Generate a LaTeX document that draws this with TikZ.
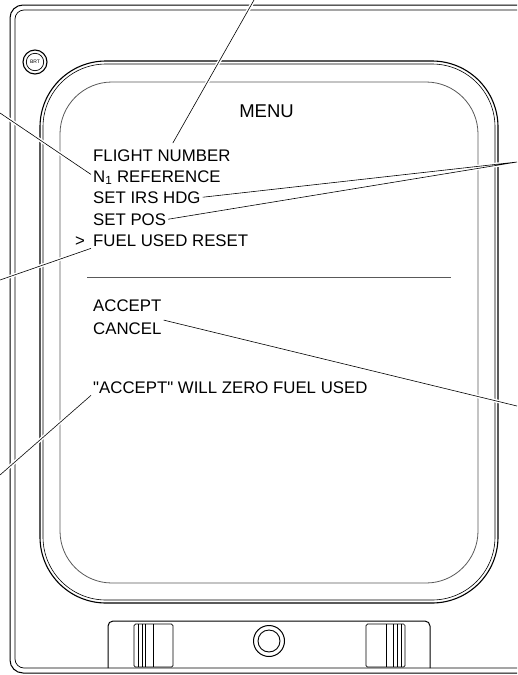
\documentclass[tikz,border=0pt]{standalone}
\usepackage{fontspec}
\setmainfont{Liberation Sans}
\tikzset{
  menuline/.style={anchor=base west, inner sep=2pt, font=\fontsize{16.8}{20}\selectfont},
  leader/.style={line width=0.6pt, preaction={draw=white, line width=3.5pt}},
  bezel/.style={line width=1pt},
}
\begin{document}
\begin{tikzpicture}[x=1pt,y=-1pt]
\useasboundingbox (0,0) rectangle (517,675);
\clip (0,0) rectangle (517,675);
% housing
\draw[bezel, rounded corners=13pt] (540,5) -- (10,5) -- (10,673) -- (540,673);
\draw[line width=0.7pt, rounded corners=9pt] (540,10) -- (15,10) -- (15,668) -- (540,668);
% screen bezel
\draw[line width=1.1pt, rounded corners=66pt] (40,61) rectangle (498,603);
\draw[line width=0.6pt, rounded corners=63pt] (43,64) rectangle (495,600);
\draw[line width=0.8pt, color=black!65, rounded corners=52pt] (60,82) rectangle (478,583);
% brightness knob
\node (brt) at (35,62) [font=\fontsize{5}{5}\selectfont, inner sep=0pt] {BRT};
\draw[line width=1.1pt] (brt.center) circle (12);
\draw[line width=0.7pt] (brt.center) circle (8.7);
% lower panel
\draw[bezel, rounded corners=5pt] (108,668) -- (108,621) -- (430,621) -- (430,668);
\draw[line width=0.7pt, rounded corners=1.5pt] (134,624) rectangle (173,667);
\foreach \x in {138,142,145,153} \draw[line width=0.5pt] (\x,624) -- (\x,667);
\draw[line width=0.7pt, rounded corners=1.5pt] (366,624) rectangle (405,667);
\foreach \x in {386,393,397,401} \draw[line width=0.5pt] (\x,624) -- (\x,667);
\draw[line width=1pt] (269,641) circle (15.5);
\draw[line width=0.9pt] (269,641) circle (11);
% screen text
\node (menu) at (266.5,117) [menuline, anchor=base, font=\fontsize{18.5}{22}\selectfont] {MENU};
\node (fltnum) at (91,161) [menuline] {FLIGHT NUMBER};
\node (nref) at (91,182) [menuline] {N\textsubscript{1} REFERENCE};
\node (irshdg) at (91,203) [menuline] {SET IRS HDG};
\node (setpos) at (91,225) [menuline] {SET POS};
\node (caret) at (73,246) [menuline] {>};
\node (fuelrst) at (91,246) [menuline] {FUEL USED RESET};
\draw[line width=0.7pt, color=black!65] (87,277) -- (451,277);
\node (accept) at (91,311) [menuline] {ACCEPT};
\node (cancel) at (91,334) [menuline] {CANCEL};
\node (zeronote) at (91,393) [menuline] {\textquotedbl ACCEPT\textquotedbl\ WILL ZERO FUEL USED};
% leaders
\coordinate (topend) at (254,0);
\coordinate (leftA) at (0,113);
\coordinate (rightA) at (517,162);
\coordinate (leftB) at (0,280);
\coordinate (rightB) at (517,406);
\coordinate (leftC) at (0,475);
\draw[leader] (topend) -- ([xshift=11pt,yshift=4pt]fltnum.north);
\draw[leader] (leftA) -- ([yshift=3pt]nref.west);
\draw[leader] (rightA) -- (irshdg.east) (rightA) -- (setpos.east);
\draw[leader] (leftB) -- (fuelrst.south west);
\draw[leader] (rightB) -- (cancel.north east);
\draw[leader] (leftC) -- (zeronote.south west);
\end{tikzpicture}
\end{document}
